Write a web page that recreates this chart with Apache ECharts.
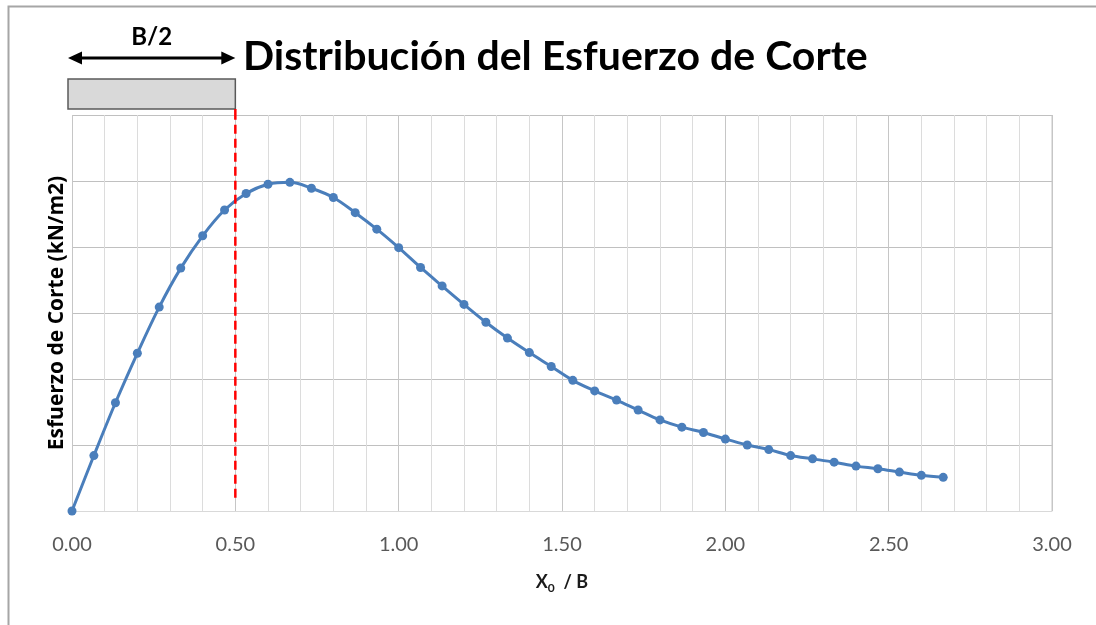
<!DOCTYPE html>
<html>
<head>
<meta charset="utf-8">
<script src="https://cdn.jsdelivr.net/npm/echarts@6/dist/echarts.min.js"></script>
<style>
html,body{margin:0;padding:0;background:#fff;}
#c{width:1096px;height:625px;}
</style>
</head>
<body>
<div id="c"></div>
<script>
const xValues = [0.000, 0.067, 0.133, 0.200, 0.267, 0.333, 0.400, 0.467, 0.533, 0.600,
  0.667, 0.733, 0.800, 0.867, 0.933, 1.000, 1.067, 1.133, 1.200, 1.267,
  1.333, 1.400, 1.467, 1.533, 1.600, 1.667, 1.733, 1.800, 1.867, 1.933,
  2.000, 2.067, 2.133, 2.200, 2.267, 2.333, 2.400, 2.467, 2.533, 2.600, 2.667];
const shearValues = [0, 0.84, 1.64, 2.39, 3.09, 3.68, 4.17, 4.56, 4.81, 4.95,
  4.98, 4.89, 4.75, 4.52, 4.27, 3.99, 3.69, 3.41, 3.13, 2.86,
  2.62, 2.40, 2.19, 1.98, 1.82, 1.68, 1.53, 1.38, 1.27, 1.19,
  1.09, 1.00, 0.93, 0.84, 0.79, 0.74, 0.68, 0.64, 0.59, 0.54, 0.51];
const footingHalfWidth = 0.5;            // B/2 position on the x axis
const dashedLineY = [0.2, 6];            // vertical extent of the red dashed line
const titleText = 'Distribución del Esfuerzo de Corte';
const yAxisTitle = 'Esfuerzo de Corte (kN/m2)';
const halfLabel = 'B/2';

const font = 'Lato, "Open Sans", "DejaVu Sans", sans-serif';
const chart = echarts.init(document.getElementById('c'), null, {renderer: 'canvas'});

const option = {
  backgroundColor: '#ffffff',
  animation: false,
  title: {
    text: titleText,
    left: 238, top: 31,
    textStyle: {fontFamily: font, fontWeight: 'bold', fontSize: 41, color: '#000'}
  },
  grid: {left: 72, right: 44, top: 115, bottom: 114, containLabel: false},
  xAxis: {
    type: 'value', min: 0, max: 3, interval: 0.5,
    name: '{x|X}{s|0}{x|  / B}',
    nameLocation: 'middle', nameGap: 60,
    nameTextStyle: {
      rich: {
        x: {fontFamily: font, fontWeight: 'bold', fontSize: 18, color: '#1a1a1a'},
        s: {fontFamily: font, fontWeight: 'bold', fontSize: 12, color: '#1a1a1a', verticalAlign: 'bottom', padding: [11, 0, 0, 0]}
      }
    },
    axisLine: {show: true, lineStyle: {color: '#d9d9d9', width: 1}},
    axisTick: {show: false},
    axisLabel: {margin: 24, fontFamily: font, fontSize: 20, color: '#595959',
      formatter: v => v.toFixed(2)},
    splitLine: {show: true, lineStyle: {color: '#c6c6c6', width: 1}},
    minorTick: {show: false, splitNumber: 5},
    minorSplitLine: {show: true, lineStyle: {color: '#dcdcdc', width: 1}}
  },
  yAxis: {
    type: 'value', min: 0, max: 6, interval: 1,
    name: yAxisTitle, nameLocation: 'middle', nameGap: 4,
    nameTextStyle: {fontFamily: '"Open Sans", Lato, sans-serif', fontWeight: 'bold', fontSize: 21, color: '#000'},
    axisLine: {show: false}, axisTick: {show: false},
    axisLabel: {show: false},
    splitLine: {show: true, lineStyle: {color: '#c0c0c0', width: 1}}
  },
  series: [{
    type: 'line',
    data: xValues.map((x, i) => [x, shearValues[i]]),
    smooth: 0.35,
    symbol: 'circle', symbolSize: 9,
    lineStyle: {color: '#4a7ebb', width: 3},
    itemStyle: {color: '#4a7ebb'},
    z: 5
  }, {
    type: 'line',
    data: dashedLineY.map(y => [footingHalfWidth, y]),
    symbol: 'none',
    lineStyle: {color: '#ff0000', type: [9, 5], width: 2.5},
    z: 6, silent: true
  }]
};
chart.setOption(option);

// annotations above the plot, aligned to data coordinates
const p0 = chart.convertToPixel({gridIndex: 0}, [0, 6]);
const pH = chart.convertToPixel({gridIndex: 0}, [footingHalfWidth, 6]);
const leftX = p0[0] - 4, rightX = pH[0];
const plotRight = chart.convertToPixel({gridIndex: 0}, [3, 0]);
chart.setOption({
  graphic: [
    {type: 'rect', shape: {x: 8.5, y: 6.5, width: 1200, height: 700},
      style: {fill: 'none', stroke: '#a6a6a6', lineWidth: 2}, silent: true},
    {type: 'line', shape: {x1: plotRight[0], y1: p0[1], x2: plotRight[0], y2: plotRight[1]},
      style: {stroke: '#c6c6c6', lineWidth: 1}},
    {type: 'rect', shape: {x: leftX, y: 79, width: rightX - leftX, height: 30},
      style: {fill: '#d9d9d9', stroke: '#595959', lineWidth: 1.5}},
    {type: 'line', shape: {x1: pH[0], y1: 109, x2: pH[0], y2: p0[1]},
      style: {stroke: '#ff0000', lineWidth: 2.5}},
    {type: 'line', shape: {x1: leftX + 8, y1: 58, x2: rightX - 8, y2: 58},
      style: {stroke: '#000', lineWidth: 3}},
    {type: 'polygon', shape: {points: [[leftX, 58], [leftX + 14, 51.5], [leftX + 14, 64.5]]},
      style: {fill: '#000'}},
    {type: 'polygon', shape: {points: [[rightX, 58], [rightX - 14, 51.5], [rightX - 14, 64.5]]},
      style: {fill: '#000'}},
    {type: 'text', x: (leftX + rightX) / 2, y: 37,
      style: {text: halfLabel, fontFamily: font, fontWeight: 'bold', fontSize: 24, fill: '#000',
        align: 'center', verticalAlign: 'middle'}}
  ]
});
</script>
</body>
</html>
